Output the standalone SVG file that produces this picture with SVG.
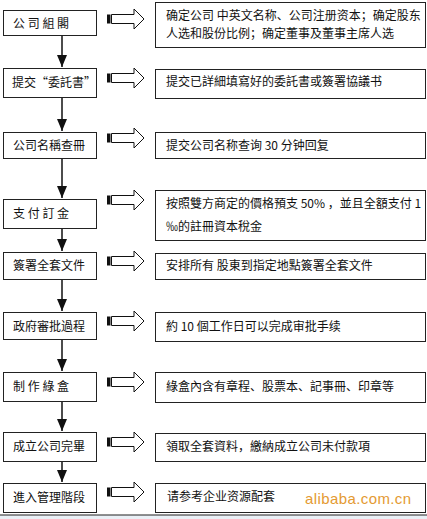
<svg xmlns="http://www.w3.org/2000/svg" xmlns:xlink="http://www.w3.org/1999/xlink" width="427" height="519" viewBox="0 0 427 519">
<style>
.box{fill:#fff;stroke:#222;stroke-width:1}
.t{font-family:"Noto Sans CJK SC","Noto Sans CJK TC",sans-serif;font-size:12px;fill:#111}
.conn{stroke:#111;stroke-width:1.5;fill:none}
.blk{fill:#fff;stroke:#111;stroke-width:1}
.wm{font-family:"Liberation Sans",Arial,sans-serif;font-size:15px;fill:#e49a32;letter-spacing:0.4px}
</style>
<defs>
<marker id="ah" markerUnits="userSpaceOnUse" markerWidth="12" markerHeight="10" viewBox="0 0 12 10" refX="12" refY="5" orient="auto">
<path d="M0,0 L12,5 L0,10 Z" fill="#111"/>
</marker>
<g id="barrow">
<rect x="107" y="-4.5" width="3.5" height="9" fill="#111"/>
<path class="blk" d="M111.5,-4.5 H134 V-10 L144,0 L134,10 V4.5 H111.5 Z"/>
</g>
</defs>
<rect x="0" y="0" width="427" height="519" fill="#fff"/>
<rect x="0" y="515" width="427" height="4" fill="#eaf0f6"/>
<line x1="0" y1="515" x2="427" y2="515" stroke="#222" stroke-width="1.2"/>

<g id="connectors">
<line class="conn" x1="62" y1="35" x2="62" y2="67" marker-end="url(#ah)"/>
<line class="conn" x1="62" y1="98" x2="62" y2="131" marker-end="url(#ah)"/>
<line class="conn" x1="62" y1="159" x2="62" y2="198" marker-end="url(#ah)"/>
<line class="conn" x1="62" y1="229" x2="62" y2="251" marker-end="url(#ah)"/>
<line class="conn" x1="62" y1="280" x2="62" y2="311" marker-end="url(#ah)"/>
<line class="conn" x1="62" y1="340" x2="62" y2="371" marker-end="url(#ah)"/>
<line class="conn" x1="62" y1="402" x2="62" y2="431" marker-end="url(#ah)"/>
<line class="conn" x1="62" y1="462" x2="62" y2="482" marker-end="url(#ah)"/>
<use xlink:href="#barrow" href="#barrow" y="19"/>
<use xlink:href="#barrow" href="#barrow" y="78"/>
<use xlink:href="#barrow" href="#barrow" y="138"/>
<use xlink:href="#barrow" href="#barrow" y="200"/>
<use xlink:href="#barrow" href="#barrow" y="261"/>
<use xlink:href="#barrow" href="#barrow" y="321"/>
<use xlink:href="#barrow" href="#barrow" y="382"/>
<use xlink:href="#barrow" href="#barrow" y="442"/>
<use xlink:href="#barrow" href="#barrow" y="492"/>
</g>

<g id="step1">
<rect class="box" x="3.5" y="10.5" width="93" height="25"/>
<text class="t" x="13" y="28" xml:space="preserve">公 司 組 閣</text>
</g>
<g id="desc1">
<rect class="box" x="155.5" y="2.5" width="270" height="45"/>
<text class="t" x="166" y="20" xml:space="preserve">确定公司 中英文名称、公司注册资本；确定股东</text>
<text class="t" x="166" y="38">人选和股份比例；确定董事及董事主席人选</text>
</g>

<g id="step2">
<rect class="box" x="3.5" y="68.5" width="93" height="29"/>
<text class="t" x="12" y="87">提交“委託書”</text>
</g>
<g id="desc2">
<rect class="box" x="155.5" y="69.5" width="270" height="29"/>
<text class="t" x="166" y="86">提交已詳細填寫好的委託書或簽署協議书</text>
</g>

<g id="step3">
<rect class="box" x="3.5" y="132.5" width="93" height="26"/>
<text class="t" x="13" y="150">公司名稱查冊</text>
</g>
<g id="desc3">
<rect class="box" x="155.5" y="132.5" width="270" height="26"/>
<text class="t" x="166" y="150">提交公司名称查询 30 分钟回复</text>
</g>

<g id="step4">
<rect class="box" x="3.5" y="199.5" width="93" height="29"/>
<text class="t" x="13" y="218" xml:space="preserve">支 付 訂 金</text>
</g>
<g id="desc4">
<rect class="box" x="155.5" y="190.5" width="270" height="50"/>
<text class="t" x="166" y="208" xml:space="preserve">按照雙方商定的價格預支 50% ，並且全額支付 1</text>
<text class="t" x="166" y="231">‰的註冊資本稅金</text>
</g>

<g id="step5">
<rect class="box" x="3.5" y="252.5" width="93" height="27"/>
<text class="t" x="13" y="270">簽署全套文件</text>
</g>
<g id="desc5">
<rect class="box" x="155.5" y="253.5" width="270" height="26"/>
<text class="t" x="166" y="270" xml:space="preserve">安排所有 股東到指定地點簽署全套文件</text>
</g>

<g id="step6">
<rect class="box" x="3.5" y="312.5" width="93" height="27"/>
<text class="t" x="13" y="331">政府審批過程</text>
</g>
<g id="desc6">
<rect class="box" x="155.5" y="312.5" width="270" height="29"/>
<text class="t" x="166" y="331">約 10 個工作日可以完成审批手续</text>
</g>

<g id="step7">
<rect class="box" x="3.5" y="372.5" width="93" height="29"/>
<text class="t" x="13" y="391" xml:space="preserve">制 作 綠 盒</text>
</g>
<g id="desc7">
<rect class="box" x="155.5" y="372.5" width="270" height="30"/>
<text class="t" x="166" y="391">綠盒內含有章程、股票本、記事冊、印章等</text>
</g>

<g id="step8">
<rect class="box" x="3.5" y="432.5" width="93" height="29"/>
<text class="t" x="13" y="451">成立公司完畢</text>
</g>
<g id="desc8">
<rect class="box" x="155.5" y="433.5" width="270" height="28"/>
<text class="t" x="166" y="451">領取全套資料，繳納成立公司未付款項</text>
</g>

<g id="step9">
<rect class="box" x="3.5" y="483.5" width="93" height="29"/>
<text class="t" x="13" y="502">進入管理階段</text>
</g>
<g id="desc9">
<rect class="box" x="155.5" y="483.5" width="270" height="29"/>
<text class="t" x="167" y="501">请参考企业资源配套</text>
<text class="wm" x="305" y="504">alibaba.com.cn</text>
</g>
</svg>
